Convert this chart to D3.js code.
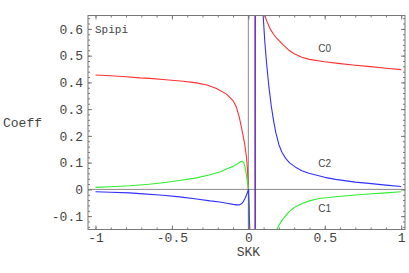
<!doctype html>
<html lang="en">
<head>
  <meta charset="utf-8">
  <title>Spipi</title>
  <style>
    body { margin: 0; background: #fff; }
    .tick text { font-family: "Liberation Mono", monospace; font-size: 13px; fill: #444; }
    .tick line { stroke: #777; }
    .domain { display: none; }
    .curve { fill: none; stroke-width: 1.1; stroke-linejoin: round; }
  </style>
</head>
<body>
  <div id="chart"></div>
  <script src="https://cdn.jsdelivr.net/npm/d3@7/dist/d3.min.js"></script>
  <script>
  // values: [SKK, Coeff]
  var c0 = [[-1,0.4275],[-0.9,0.425],[-0.8,0.421],[-0.71,0.417],[-0.645,0.415],[-0.558,0.411],
    [-0.427,0.404],[-0.339,0.398],[-0.27,0.39],[-0.208,0.377],[-0.143,0.356],[-0.1,0.332],
    [-0.08,0.31],[-0.06,0.272],[-0.045,0.232],[-0.034,0.2],[-0.023,0.166],[-0.012,0.12],
    [-0.005,0.07],[0.002,-0.03],[0.01,-0.15],[0.025,-0.6],[0.0435,-3],[0.0435,3],[0.07,1.2],
    [0.09,0.8],[0.106,0.655],[0.12,0.63],[0.141,0.602],[0.165,0.58],[0.185,0.565],[0.228,0.54],
    [0.268,0.519],[0.3,0.507],[0.35,0.494],[0.4,0.486],[0.5,0.477],[0.6,0.47],[0.7,0.464],
    [0.8,0.459],[0.9,0.453],[1,0.4475]];
  var c1 = [[-1,0.0075],[-0.9,0.01],[-0.776,0.0135],[-0.65,0.019],[-0.558,0.025],[-0.45,0.033],
    [-0.339,0.043],[-0.25,0.055],[-0.187,0.065],[-0.15,0.074],[-0.1,0.086],[-0.07,0.096],
    [-0.05,0.104],[-0.04,0.105],[-0.03,0.1],[-0.022,0.085],[-0.016,0.066],[-0.01,0.045],
    [-0.005,0.0225],[0.001,0.003],[0.003,-0.1],[0.004,-0.3],[0.01,-3],[0.15,-3],[0.17,-0.3],
    [0.186,-0.15],[0.205,-0.13],[0.221,-0.115],[0.265,-0.084],[0.3,-0.068],[0.352,-0.0525],
    [0.4,-0.043],[0.462,-0.034],[0.571,-0.0275],[0.7,-0.021],[0.789,-0.0175],[0.9,-0.013],[1,-0.009]];
  var c2 = [[-1,-0.009],[-0.9,-0.011],[-0.776,-0.013],[-0.71,-0.016],[-0.558,-0.022],[-0.45,-0.028],
    [-0.339,-0.036],[-0.25,-0.043],[-0.187,-0.047],[-0.14,-0.052],[-0.1,-0.056],[-0.075,-0.058],
    [-0.06,-0.058],[-0.045,-0.054],[-0.034,-0.047],[-0.022,-0.034],[-0.012,-0.021],[-0.004,-0.009],
    [0.002,0.0],[0.004,-0.06],[0.006,-0.15],[0.015,-0.6],[0.0455,-3],[0.0455,3],[0.075,1.2],
    [0.097,0.65],[0.108,0.55],[0.12,0.468],[0.135,0.382],[0.15,0.312],[0.165,0.257],[0.18,0.212],
    [0.2,0.167],[0.22,0.139],[0.244,0.116],[0.27,0.099],[0.309,0.083],[0.35,0.07],[0.396,0.06],
    [0.5,0.045],[0.571,0.0375],[0.7,0.027],[0.789,0.0225],[0.9,0.016],[1,0.011]];

  var xMajor = [-1, -0.5, 0, 0.5, 1];
  var xMajorLabels = ["-1", "-0.5", "0", "0.5", "1"];
  var yMajor = [-0.1, 0, 0.1, 0.2, 0.3, 0.4, 0.5, 0.6];
  var yMajorLabels = ["-0.1", "0", "0.1", "0.2", "0.3", "0.4", "0.5", "0.6"];

  (function(){
    var xMinor = d3.range(-10, 11).map(function(i){ return i / 10; });
    var yMinor = d3.range(-7, 33).map(function(i){ return i / 50; });

    var series = [
      {name: "C0", data: c0, color: "#ff3030", lx: 0.5, ly: 0.512},
      {name: "C1", data: c1, color: "#30ee30", lx: 0.5, ly: -0.083},
      {name: "C2", data: c2, color: "#3030ff", lx: 0.5, ly: 0.082}
    ];

    var width = 409, height = 273;
    var pLeft = 88, pRight = 405, pTop = 15.5, pBottom = 229.5;

    var x = d3.scaleLinear().domain([-1.049, 1.025]).range([pLeft, pRight]);
    var y = d3.scaleLinear().domain([-0.15, 0.65]).range([pBottom, pTop]);

    var svg = d3.select("#chart").append("svg")
        .attr("width", width)
        .attr("height", height);

    svg.append("clipPath").attr("id", "clip")
      .append("rect")
        .attr("x", pLeft).attr("y", pTop)
        .attr("width", pRight - pLeft).attr("height", pBottom - pTop);

    // axes through origin
    svg.append("line")
        .attr("x1", x(0)).attr("x2", x(0)).attr("y1", pTop).attr("y2", pBottom)
        .attr("stroke", "#888").attr("stroke-width", 1);
    svg.append("line")
        .attr("x1", pLeft).attr("x2", pRight).attr("y1", y(0)).attr("y2", y(0))
        .attr("stroke", "#888").attr("stroke-width", 1);

    var line = d3.line()
        .x(function(d){ return x(d[0]); })
        .y(function(d){ return y(d[1]); });

    var plot = svg.append("g").attr("clip-path", "url(#clip)");
    plot.selectAll("path")
      .data(series)
      .enter().append("path")
        .attr("class", "curve")
        .attr("stroke", function(d){ return d.color; })
        .attr("d", function(d){ return line(d.data); });

    // frame ticks, pointing inward, on all four sides
    function frameAxis(gen, tr, vals, size, labels, pad) {
      return svg.append("g").attr("transform", tr)
        .call(gen.tickValues(vals).tickSize(size).tickPadding(pad || 4)
          .tickFormat(labels ? function(d, i){ return labels[i]; } : ""));
    }
    frameAxis(d3.axisBottom(x), "translate(0," + pBottom + ")", xMinor, -2, null);
    frameAxis(d3.axisBottom(x), "translate(0," + pBottom + ")", xMajor, -4, xMajorLabels, 3);
    frameAxis(d3.axisTop(x), "translate(0," + pTop + ")", xMinor, -2, null);
    frameAxis(d3.axisTop(x), "translate(0," + pTop + ")", xMajor, -4, null);
    frameAxis(d3.axisLeft(y), "translate(" + pLeft + ",0)", yMinor, -2, null);
    frameAxis(d3.axisLeft(y), "translate(" + pLeft + ",0)", yMajor, -4, yMajorLabels, 5);
    frameAxis(d3.axisRight(y), "translate(" + pRight + ",0)", yMinor, -2, null);
    frameAxis(d3.axisRight(y), "translate(" + pRight + ",0)", yMajor, -4, null);

    svg.append("rect")
        .attr("x", pLeft).attr("y", pTop)
        .attr("width", pRight - pLeft).attr("height", pBottom - pTop)
        .attr("fill", "none").attr("stroke", "#777").attr("stroke-width", 1);

    // curve labels
    svg.selectAll(".clabel")
      .data(series)
      .enter().append("text")
        .attr("class", "clabel")
        .attr("x", function(d){ return x(d.lx); })
        .attr("y", function(d){ return y(d.ly); })
        .attr("text-anchor", "middle")
        .attr("font-family", "Liberation Sans, Arial, sans-serif")
        .attr("font-size", 10)
        .attr("fill", "#444")
        .text(function(d){ return d.name; });

    svg.append("text")
        .attr("x", 95).attr("y", 33)
        .attr("font-family", "Liberation Mono, monospace")
        .attr("font-size", 11).attr("fill", "#444")
        .text("Spipi");

    svg.append("text")
        .attr("x", 3).attr("y", 127)
        .attr("font-family", "Liberation Mono, monospace")
        .attr("font-size", 13).attr("fill", "#444")
        .text("Coeff");

    svg.append("text")
        .attr("x", x(0)).attr("y", 256)
        .attr("text-anchor", "middle")
        .attr("font-family", "Liberation Mono, monospace")
        .attr("font-size", 13).attr("fill", "#444")
        .text("SKK");
  })();
  </script>
</body>
</html>
